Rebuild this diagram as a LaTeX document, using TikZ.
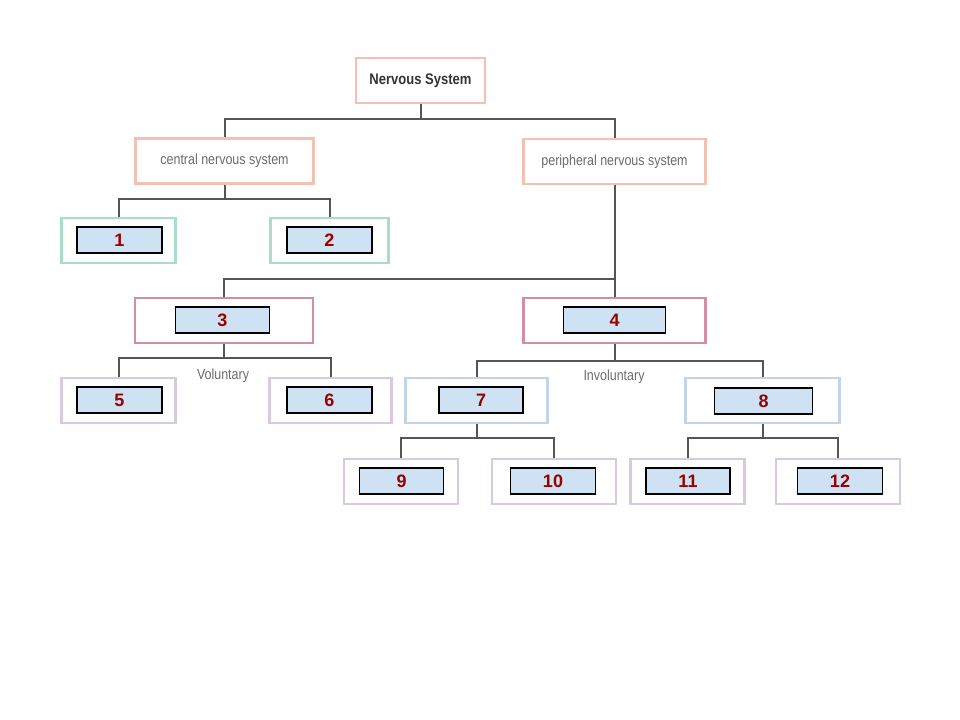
\documentclass[tikz,border=0pt]{standalone}
\usepackage{fontspec}
\setmainfont{Liberation Sans}
\newfontfamily\narrowsans[FakeStretch=0.85]{Liberation Sans}
\definecolor{peach}{HTML}{F3C1B3}
\definecolor{mint}{HTML}{A9DCCB}
\definecolor{rose}{HTML}{D58CA6}
\definecolor{lilac}{HTML}{D9C9DF}
\definecolor{skyline}{HTML}{C3D3EA}
\definecolor{numfill}{HTML}{CFE2F3}
\definecolor{numred}{HTML}{990000}
\definecolor{linkgray}{HTML}{555555}
\definecolor{textgray}{HTML}{6A6A6A}

\begin{document}
\begin{tikzpicture}[x=0.75pt, y=-0.75pt,
  part/.style={line width=2.2pt, fill=white, minimum height=33.75pt, inner sep=0pt,
    font=\narrowsans\fontsize{11}{13}\selectfont, text=textgray},
  topbox/.style={part, draw=peach},
  cnsbox/.style={part, draw=mint},
  divbox/.style={part, draw=rose},
  limbbox/.style={part, draw=lilac},
  subbox/.style={part, draw=skyline},
  numbox/.style={draw=black, line width=0.8pt, fill=numfill, minimum height=19.5pt,
    minimum width=63.75pt, inner sep=0pt, text=numred,
    font=\bfseries\fontsize{13.5}{15}\selectfont},
  link/.style={draw=linkgray, line width=1.5pt},
  tag/.style={font=\narrowsans\fontsize{11}{13}\selectfont, text=textgray, inner sep=1pt}]
\useasboundingbox (0,0) rectangle (960,720);
% ---- top levels ----
\node[topbox, minimum width=96.75pt, font=\narrowsans\bfseries\fontsize{11.5}{13}\selectfont, text=black!80]
  (ns) at (420.5,80.5) {Nervous System};
\node[topbox, minimum width=134pt] (cns) at (224.5,161) {central nervous system};
\node[topbox, minimum width=136pt] (pns) at (614.5,161.5) {peripheral nervous system};
% ---- outer boxes ----
\node[cnsbox, minimum width=86pt] (b1) at (118.5,240.5) {};
\node[cnsbox, minimum width=89pt] (b2) at (329.5,240.5) {};
\node[divbox, minimum width=133.5pt] (b3) at (224,320.5) {};
\node[divbox, minimum width=136pt] (b4) at (614.5,320.5) {};
\node[limbbox, minimum width=86pt] (b5) at (118.5,400.5) {};
\node[limbbox, minimum width=91pt] (b6) at (330.5,400.5) {};
\node[subbox, minimum width=106pt] (b7) at (476.5,400.5) {};
\node[subbox, minimum width=116pt] (b8) at (762.5,400.5) {};
\node[limbbox, minimum width=85.5pt] (b9) at (401,481.5) {};
\node[limbbox, minimum width=93pt] (b10) at (554,481.5) {};
\node[limbbox, minimum width=86pt] (b11) at (687.5,481.5) {};
\node[limbbox, minimum width=93pt] (b12) at (838,481.5) {};
% ---- number fields ----
\node[numbox] (n1) at (119.5,240) {1};
\node[numbox] (n2) at (329.5,240) {2};
\node[numbox, minimum width=71pt] (n3) at (222.5,320) {3};
\node[numbox, minimum width=77pt] (n4) at (614.5,320) {4};
\node[numbox] (n5) at (119.5,400) {5};
\node[numbox] (n6) at (329.5,400) {6};
\node[numbox, minimum width=63pt] (n7) at (481,400) {7};
\node[numbox, minimum width=74pt] (n8) at (763.5,401) {8};
\node[numbox, minimum width=62.5pt] (n9) at (401.5,481) {9};
\node[numbox] (n10) at (553,481) {10};
\node[numbox, minimum width=63pt] (n11) at (688,481) {11};
\node[numbox] (n12) at (840,481) {12};
% ---- connectors ----
\draw[link] (ns.south) -- ++(0,15) -| (cns.north);
\draw[link] (ns.south) -- ++(0,15) -| (pns.north);
\draw[link] (cns.south) -- ++(0,14) -| (b1.north);
\draw[link] (cns.south) -- ++(0,14) -| (b2.north);
\draw[link] (pns.south) -- (b4.north);
\draw[link] (b3.north) -- ++(0,-18) -| (pns.south);
\draw[link] (b3.south) -- ++(0,14) -| (b5.north);
\draw[link] (b3.south) -- ++(0,14) -| (b6.north);
\draw[link] (b4.south) -- ++(0,17) -| (b7.north);
\draw[link] (b4.south) -- ++(0,17) -| (b8.north);
\draw[link] (b7.south) -- ++(0,14) -| (b9.north);
\draw[link] (b7.south) -- ++(0,14) -| (b10.north);
\draw[link] (b8.south) -- ++(0,14) -| (b11.north);
\draw[link] (b8.south) -- ++(0,14) -| (b12.north);
% ---- branch labels ----
\node[tag] (vol) at (223,376) {Voluntary};
\node[tag] (invol) at (614,377) {Involuntary};
\end{tikzpicture}
\end{document}
